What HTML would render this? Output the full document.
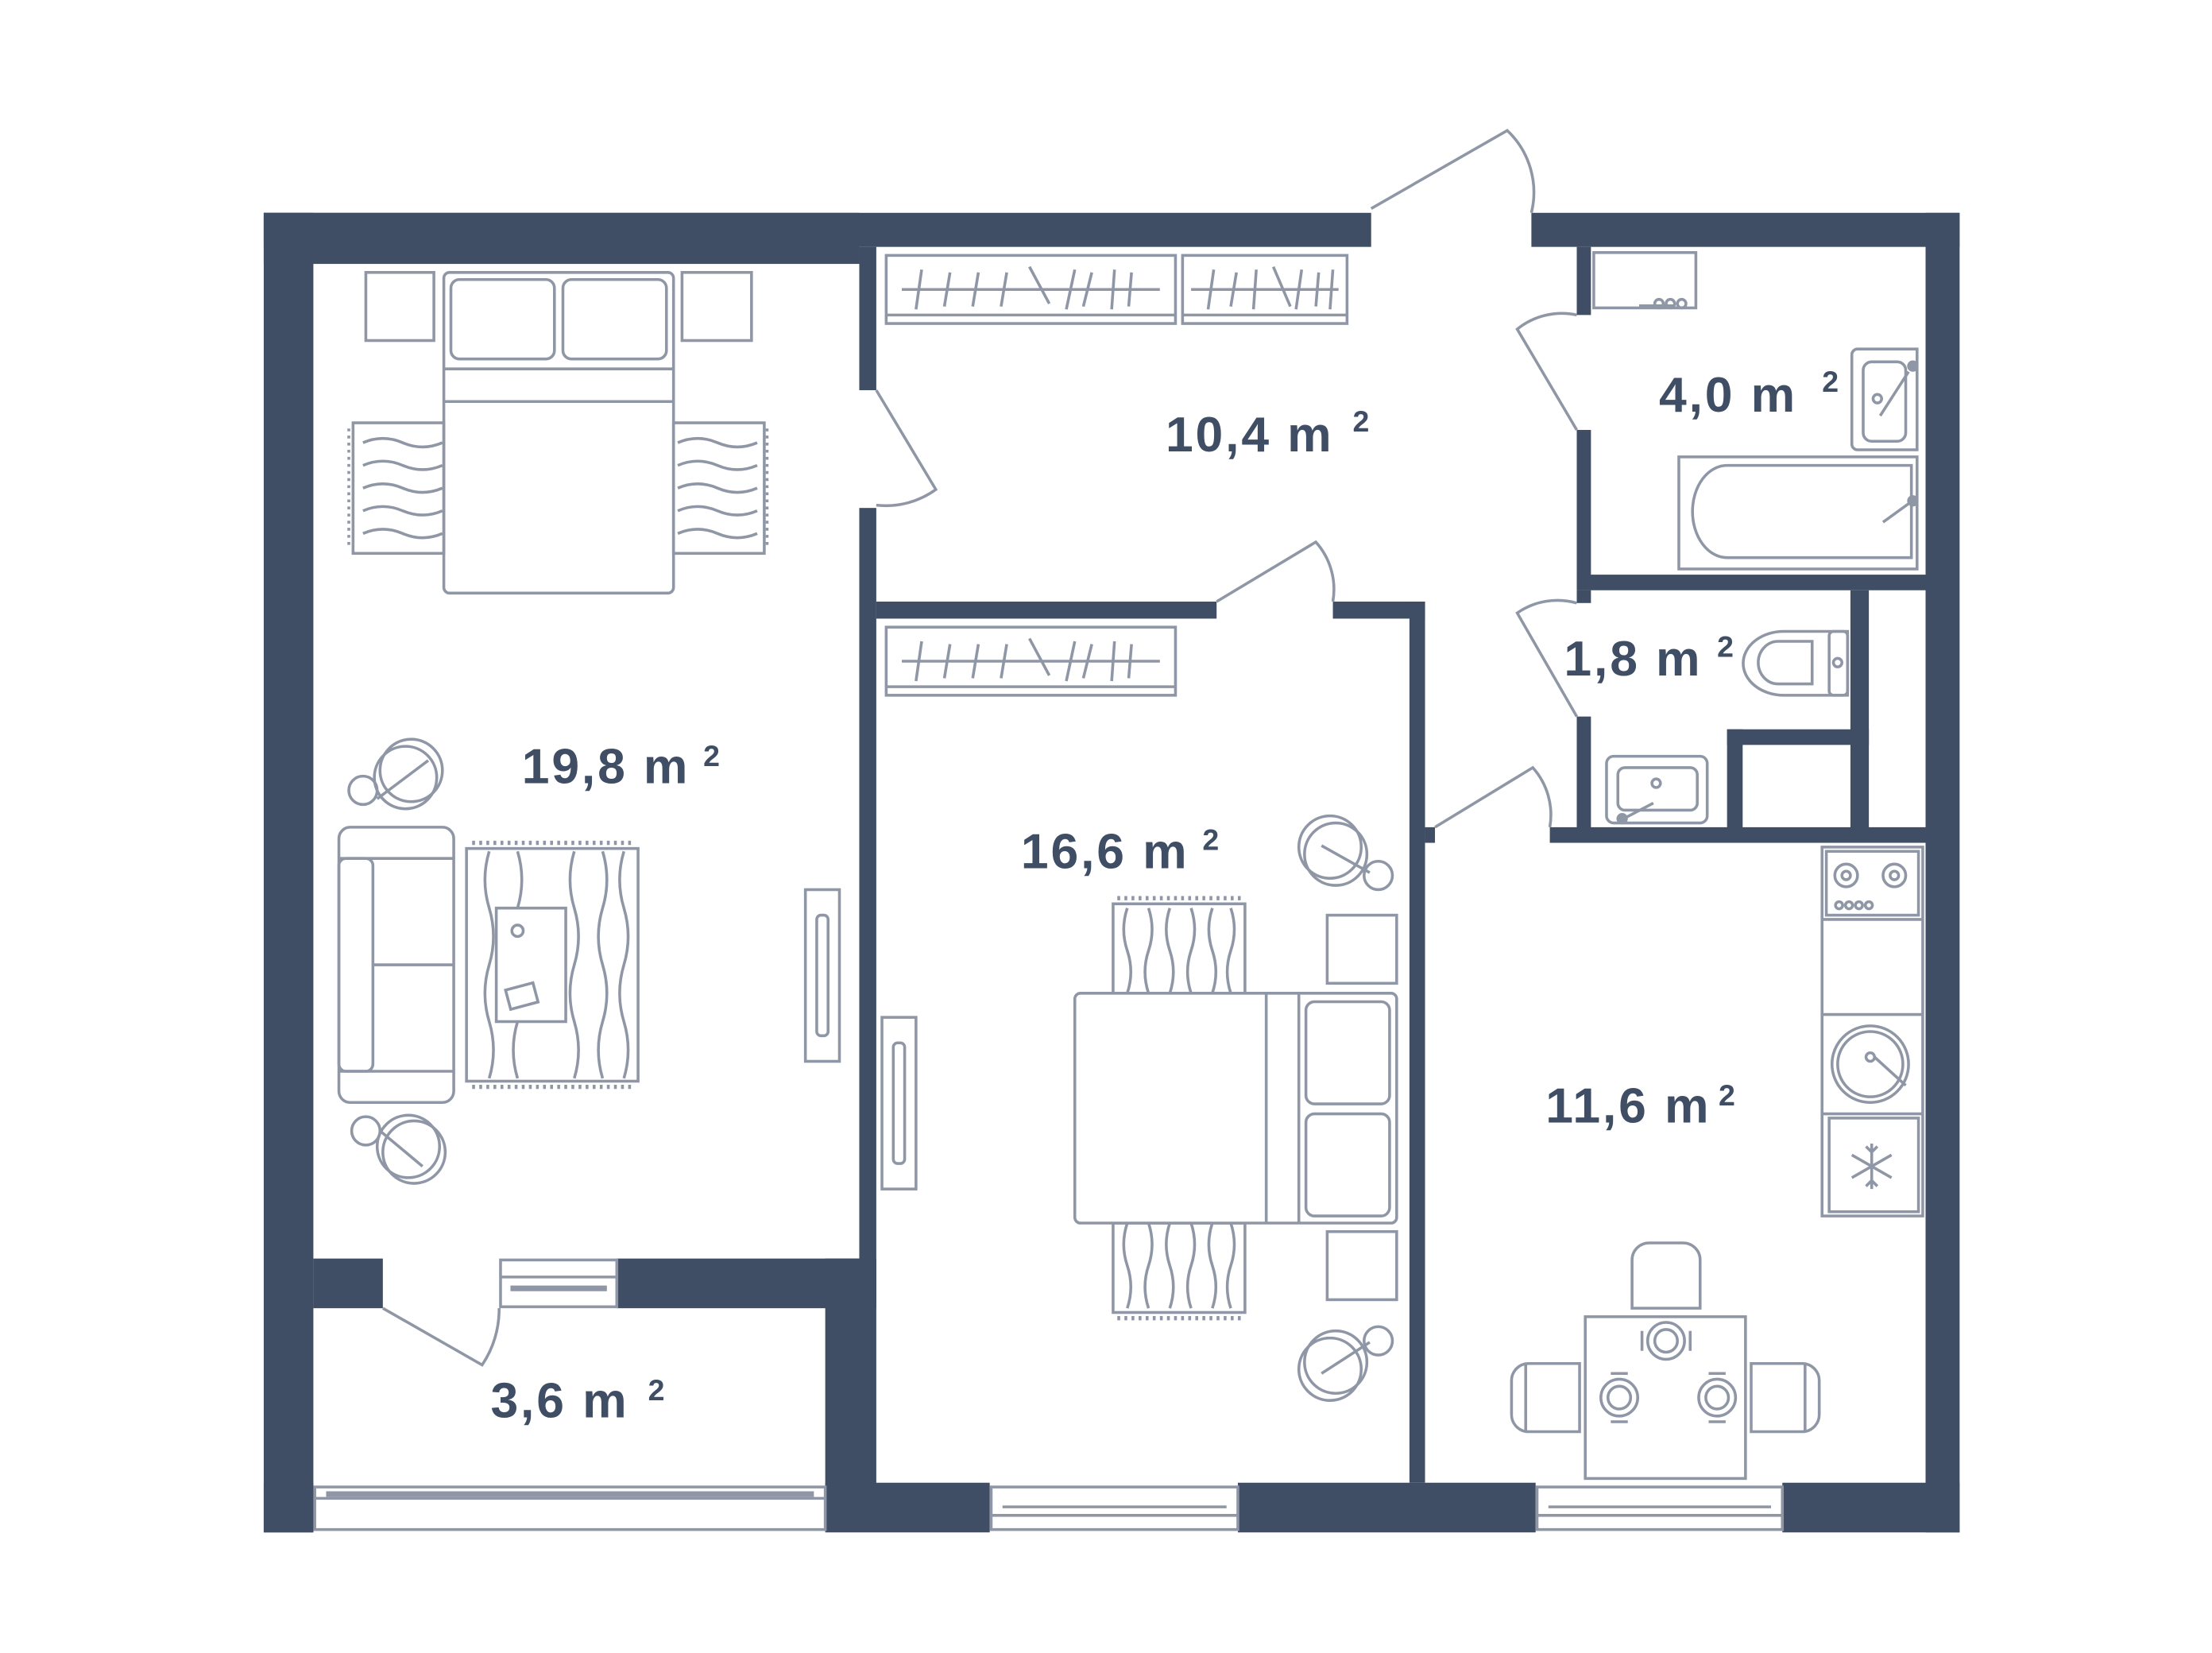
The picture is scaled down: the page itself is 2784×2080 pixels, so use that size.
<!DOCTYPE html>
<html><head><meta charset="utf-8"><style>
html,body{margin:0;padding:0;background:#fff;}
svg{display:block;}
text{font-family:"Liberation Sans",sans-serif;font-weight:bold;fill:#3f4e65;}
.t{font-size:35px;letter-spacing:1.6px;}
.s{font-size:21px;}
</style></head><body>
<svg width="2784" height="2080" viewBox="0 0 1560 1165" preserveAspectRatio="none" xmlns="http://www.w3.org/2000/svg">
<g fill="#3f4e65">
<rect x="186" y="150" width="781" height="24"/>
<rect x="186" y="150" width="420" height="36"/>
<rect x="1080" y="150" width="302" height="24"/>
<rect x="186" y="150" width="35" height="930"/>
<rect x="1358" y="150" width="24" height="930"/>
<rect x="582" y="1045" width="116" height="35"/>
<rect x="873" y="1045" width="210" height="35"/>
<rect x="1257" y="1045" width="125" height="35"/>
<rect x="186" y="1045" width="35" height="35"/>
<rect x="606" y="174" width="12" height="101"/>
<rect x="606" y="358" width="12" height="530"/>
<rect x="582" y="887" width="36" height="160"/>
<rect x="221" y="887" width="49" height="35"/>
<rect x="435" y="887" width="183" height="35"/>
<rect x="618" y="424" width="240" height="12"/>
<rect x="940" y="424" width="65" height="12"/>
<rect x="994" y="424" width="11" height="621"/>
<rect x="1005" y="583" width="7" height="11"/>
<rect x="1112" y="174" width="10" height="48"/>
<rect x="1112" y="303" width="10" height="113"/>
<rect x="1112" y="405" width="246" height="11"/>
<rect x="1112" y="416" width="10" height="9"/>
<rect x="1112" y="505" width="10" height="80"/>
<rect x="1305" y="416" width="13" height="168"/>
<rect x="1218" y="514" width="100" height="11"/>
<rect x="1218" y="514" width="11" height="70"/>
<rect x="1093" y="583" width="265" height="11"/>
</g>
<g fill="none" stroke="#8f96a5" stroke-width="2">
<rect x="222" y="1048" width="360" height="30"/><line x1="222" y1="1056" x2="582" y2="1056"/><line x1="230" y1="1053" x2="574" y2="1053" stroke-width="4"/>
<rect x="699" y="1048" width="174" height="30"/><line x1="699" y1="1068" x2="873" y2="1068"/><line x1="707" y1="1062" x2="865" y2="1062"/>
<rect x="1084" y="1048" width="173" height="30"/><line x1="1084" y1="1068" x2="1257" y2="1068"/><line x1="1092" y1="1062" x2="1249" y2="1062"/>
<rect x="353" y="888" width="82" height="33"/><line x1="353" y1="900" x2="435" y2="900"/><line x1="360" y1="908" x2="428" y2="908" stroke-width="4"/>
<path d="M967 147 L1063 92 A60 60 0 0 1 1080 150"/>
<path d="M618 275 L660 345 A60 60 0 0 1 618 356"/>
<path d="M858 424 L928 382 A50 50 0 0 1 940 424"/>
<path d="M1112 303 L1070 232 A50 50 0 0 1 1112 222"/>
<path d="M1112 505 L1070 432 A50 50 0 0 1 1112 425"/>
<path d="M1012 583 L1081 541 A50 50 0 0 1 1093 583"/>
<path d="M270 922 L340 962 A70 70 0 0 0 352 922"/>
<rect x="625" y="180" width="204" height="48"/><line x1="625" y1="222" x2="829" y2="222"/><line x1="636" y1="204" x2="818" y2="204"/>
<path d="M650 190 L646 218 M670 192 L666 216 M690 192 L686 216 M710 192 L706 216 M726 188 L740 214 M758 190 L752 218 M770 192 L764 216 M786 190 L784 218 M798 192 L796 216"/>
<rect x="834" y="180" width="116" height="48"/><line x1="834" y1="222" x2="950" y2="222"/><line x1="840" y1="204" x2="944" y2="204"/>
<path d="M856 190 L852 218 M872 192 L868 216 M886 190 L884 218 M898 188 L910 216 M918 190 L914 218 M930 192 L928 216 M940 190 L938 218"/>
<rect x="625" y="442" width="204" height="48"/><line x1="625" y1="484" x2="829" y2="484"/><line x1="636" y1="466" x2="818" y2="466"/>
<path d="M650 452 L646 480 M670 454 L666 478 M690 454 L686 478 M710 454 L706 478 M726 450 L740 476 M758 452 L752 480 M770 454 L764 478 M786 452 L784 480 M798 454 L796 478"/>
<rect x="258" y="192" width="48" height="48"/><rect x="481" y="192" width="49" height="48"/>
<rect x="313" y="192" width="162" height="226" rx="4"/>
<rect x="318" y="197" width="73" height="56" rx="6"/><rect x="397" y="197" width="73" height="56" rx="6"/>
<line x1="313" y1="260" x2="475" y2="260"/><line x1="313" y1="283" x2="475" y2="283"/>
<rect x="249" y="298" width="64" height="92"/><rect x="475" y="298" width="64" height="92"/>
<path d="M256 312 q14 -6 28 0 t28 0 M256 328 q14 -6 28 0 t28 0 M256 344 q14 -6 28 0 t28 0 M256 360 q14 -6 28 0 t28 0 M256 376 q14 -6 28 0 t28 0"/>
<path d="M478 312 q14 -6 28 0 t28 0 M478 328 q14 -6 28 0 t28 0 M478 344 q14 -6 28 0 t28 0 M478 360 q14 -6 28 0 t28 0 M478 376 q14 -6 28 0 t28 0"/>
<path d="M246 302 v84 M541 302 v84" stroke-dasharray="2 3"/>
<circle cx="290" cy="543" r="22"/><circle cx="286" cy="548" r="22"/><circle cx="256" cy="557" r="10"/><line x1="266" y1="563" x2="302" y2="536"/>
<circle cx="292" cy="812" r="22"/><circle cx="288" cy="808" r="22"/><circle cx="258" cy="797" r="10"/><line x1="268" y1="797" x2="298" y2="822"/>
<rect x="239" y="583" width="81" height="194" rx="8"/>
<rect x="239" y="605" width="24" height="150" rx="5"/><line x1="263" y1="680" x2="320" y2="680"/><line x1="239" y1="605" x2="320" y2="605"/><line x1="239" y1="755" x2="320" y2="755"/>
<rect x="329" y="598" width="121" height="164"/>
<path d="M345 600 q-6 20 0 40 t0 40 t0 40 t0 40 M365 600 q6 20 0 40 t0 40 t0 40 t0 40 M405 600 q-6 20 0 40 t0 40 t0 40 t0 40 M425 600 q6 20 0 40 t0 40 t0 40 t0 40 M440 600 q-6 20 0 40 t0 40 t0 40 t0 40"/>
<path d="M333 594 h114 M333 766 h114" stroke-dasharray="2 3" stroke-width="3"/>
<rect x="350" y="640" width="49" height="80" fill="#fff"/><circle cx="365" cy="656" r="4"/>
<rect x="358" y="695" width="20" height="14" transform="rotate(-15 368 702)"/>
<rect x="568" y="627" width="24" height="121"/><rect x="576" y="645" width="8" height="85" rx="3"/>
<rect x="622" y="717" width="24" height="121"/><rect x="630" y="735" width="8" height="85" rx="3"/>
<rect x="785" y="637" width="93" height="63"/><rect x="785" y="862" width="93" height="63"/>
<path d="M795 640 q-5 15 0 30 t0 30 M810 640 q5 15 0 30 t0 30 M825 640 q-5 15 0 30 t0 30 M840 640 q5 15 0 30 t0 30 M855 640 q-5 15 0 30 t0 30 M868 640 q5 15 0 30 t0 30"/>
<path d="M795 862 q-5 15 0 30 t0 30 M810 862 q5 15 0 30 t0 30 M825 862 q-5 15 0 30 t0 30 M840 862 q5 15 0 30 t0 30 M855 862 q-5 15 0 30 t0 30 M868 862 q5 15 0 30 t0 30"/>
<path d="M788 633 h88 M788 929 h88" stroke-dasharray="2 3" stroke-width="3"/>
<rect x="758" y="700" width="227" height="162" rx="4" fill="#fff"/>
<line x1="893" y1="700" x2="893" y2="862"/><line x1="916" y1="700" x2="916" y2="862"/>
<rect x="921" y="706" width="59" height="72" rx="6"/><rect x="921" y="785" width="59" height="72" rx="6"/>
<rect x="936" y="645" width="49" height="48"/><rect x="936" y="868" width="49" height="48"/>
<circle cx="938" cy="597" r="22"/><circle cx="942" cy="602" r="22"/><circle cx="972" cy="617" r="10"/><line x1="932" y1="596" x2="966" y2="615"/>
<circle cx="938" cy="965" r="22"/><circle cx="942" cy="960" r="22"/><circle cx="972" cy="945" r="10"/><line x1="932" y1="968" x2="966" y2="946"/>
<rect x="1124" y="178" width="72" height="39"/><line x1="1156" y1="216" x2="1180" y2="216" stroke-width="3"/>
<circle cx="1170" cy="214" r="3"/><circle cx="1178" cy="214" r="3"/><circle cx="1186" cy="214" r="3"/>
<path d="M1352 246 v71 h-42 a4 4 0 0 1 -4 -4 v-63 a4 4 0 0 1 4 -4 z"/><rect x="1314" y="255" width="30" height="56" rx="6"/><circle cx="1324" cy="281" r="3"/><line x1="1326" y1="293" x2="1346" y2="262"/><circle cx="1349" cy="258" r="3" fill="#8f96a5"/>
<rect x="1184" y="322" width="168" height="79"/><path d="M1348 328 v65 h-130 a24 32 0 0 1 0 -65 z"/><line x1="1328" y1="368" x2="1346" y2="355"/><circle cx="1349" cy="353" r="3" fill="#8f96a5"/>
<path d="M1303 445 v45 h-45 a28 22 0 0 1 0 -45 z"/><path d="M1278 452 v30 h-24 a14 15 0 0 1 0 -30 z"/><rect x="1290" y="445" width="13" height="45" rx="3"/><circle cx="1296" cy="467" r="3"/>
<rect x="1133" y="533" width="71" height="47" rx="5"/><rect x="1141" y="541" width="56" height="30" rx="5"/><circle cx="1168" cy="552" r="3"/><line x1="1145" y1="577" x2="1166" y2="566"/><circle cx="1144" cy="577" r="3" fill="#8f96a5"/>
<rect x="1285" y="597" width="71" height="260"/>
<line x1="1285" y1="648" x2="1356" y2="648"/><line x1="1285" y1="715" x2="1356" y2="715"/><line x1="1285" y1="785" x2="1356" y2="785"/>
<rect x="1288" y="600" width="65" height="45"/>
<circle cx="1302" cy="617" r="8"/><circle cx="1302" cy="617" r="3"/><circle cx="1336" cy="617" r="8"/><circle cx="1336" cy="617" r="3"/>
<circle cx="1297" cy="638" r="2.5"/><circle cx="1304" cy="638" r="2.5"/><circle cx="1311" cy="638" r="2.5"/><circle cx="1318" cy="638" r="2.5"/>
<circle cx="1319" cy="750" r="27"/><circle cx="1319" cy="750" r="23"/><circle cx="1319" cy="745" r="3"/><line x1="1322" y1="745" x2="1344" y2="765"/>
<rect x="1290" y="788" width="63" height="66"/>
<path d="M1320 806 v32 M1306 814 l28 16 M1306 830 l28 -16 M1316 808 l4 4 l4 -4 M1316 836 l4 -4 l4 4"/>
<path d="M1151 922 v-34 a12 12 0 0 1 12 -12 h24 a12 12 0 0 1 12 12 v34 z"/>
<path d="M1114 961 v48 h-36 a12 12 0 0 1 -12 -12 v-24 a12 12 0 0 1 12 -12 z"/><line x1="1076" y1="961" x2="1076" y2="1009"/>
<path d="M1235 961 v48 h36 a12 12 0 0 0 12 -12 v-24 a12 12 0 0 0 -12 -12 z"/><line x1="1273" y1="961" x2="1273" y2="1009"/>
<rect x="1118" y="928" width="113" height="114" fill="#fff"/>
<circle cx="1175" cy="945" r="13"/><circle cx="1175" cy="945" r="8"/><path d="M1158 938 v14 M1192 938 v14"/>
<circle cx="1142" cy="985" r="13"/><circle cx="1142" cy="985" r="8"/><path d="M1136 968 h12 M1136 1002 h12"/>
<circle cx="1211" cy="985" r="13"/><circle cx="1211" cy="985" r="8"/><path d="M1205 968 h12 M1205 1002 h12"/>
</g>
<g>
<text class="t" x="822" y="318">10,4 m</text><text class="s" x="954" y="304">2</text>
<text class="t" x="368" y="552">19,8 m</text><text class="s" x="496" y="540">2</text>
<text class="t" x="1170" y="290">4,0 m</text><text class="s" x="1285" y="276">2</text>
<text class="t" x="1103" y="476">1,8 m</text><text class="s" x="1211" y="463">2</text>
<text class="t" x="720" y="612">16,6 m</text><text class="s" x="848" y="599">2</text>
<text class="t" x="1090" y="791">11,6 m</text><text class="s" x="1212" y="779">2</text>
<text class="t" x="346" y="999">3,6 m</text><text class="s" x="457" y="987">2</text>
</g>
</svg>
</body></html>
